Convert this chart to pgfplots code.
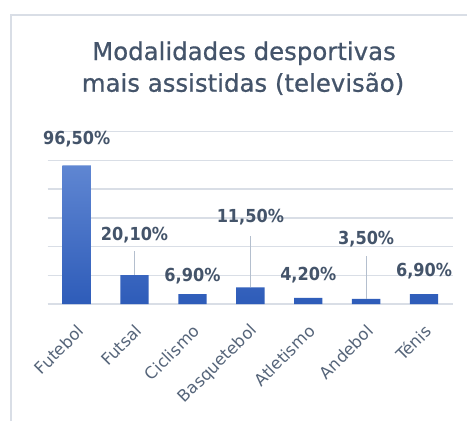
\documentclass[border=0pt]{standalone}
\usepackage{pgfplots}
\pgfplotsset{compat=1.18}
\usepackage{pgfplotstable}
\usepackage{fontspec}
\setmainfont{DejaVu Sans}
\newfontfamily\condfont{DejaVu Sans Condensed}
\newfontfamily\titlefont[FakeBold=0.7]{DejaVu Sans}
\definecolor{titlecol}{HTML}{44546A}
\definecolor{tickcol}{HTML}{56657A}
\definecolor{gridcol}{HTML}{D9DEE6}
\definecolor{framecol}{HTML}{D9DEE6}
\definecolor{bartop}{HTML}{5F86D2}
\definecolor{barbot}{HTML}{2E5CB9}
\definecolor{leadercol}{HTML}{B4BFCE}
\pgfplotstableread{
x  y     val
0  96.5  96.5
1  20.1  20.1
2  6.9   6.9
3  11.5  11.5
4  4.2   4.2
5  3.5   3.5
6  6.9   6.9
}\bars
\pgfplotstableread{
x  ypos   val
0  114.8  96.5
1  48.2   20.1
2  19.1   6.9
3  60.7   11.5
4  20.2   4.2
5  45.5   3.5
6  23.2   6.9
}\labs
\begin{document}
\begin{tikzpicture}[x=1bp,y=1bp]
\useasboundingbox (0,0) rectangle (467,421);
\fill[white] (0,0) rectangle (467,421);
\draw[framecol, line width=1.5bp] (11,0) -- (11,406) -- (467,406);
\node[anchor=base, font=\titlefont\fontsize{24.5}{28}\selectfont, text=titlecol, inner sep=0] at (244,361) {Modalidades desportivas};
\node[anchor=base, font=\titlefont\fontsize{24.5}{28}\selectfont, text=titlecol, inner sep=0] at (243,329.3) {mais assistidas (televisão)};
\begin{axis}[
  at={(47.7bp,117bp)}, anchor=south west,
  scale only axis, width=405.3bp, height=172.3bp,
  xmin=-0.5, xmax=6.5, ymin=0, ymax=120,
  ytick={0,20,...,120}, yticklabels={},
  ymajorgrids, grid style={gridcol, line width=1.5bp},
  axis line style={draw=none},
  major tick length=0pt,
  xtick={0,...,6},
  xticklabels={Futebol,Futsal,Ciclismo,Basquetebol,Atletismo,Andebol,Ténis},
  xticklabel style={rotate=45, anchor=east, xshift=-14.2bp, yshift=-19.8bp, text=tickcol, font=\fontsize{16.5}{19}\selectfont, inner sep=0pt},
  /pgf/number format/assume math mode=true,
  clip=false,
]
\addplot[ybar, bar width=0.49, draw=none, top color=bartop, bottom color=barbot] table[x=x, y=y] {\bars};
\addplot[leadercol, line width=1bp] coordinates {(1,20.1) (1,37.2)};
\addplot[leadercol, line width=1bp] coordinates {(3,11.5) (3,47.6)};
\addplot[leadercol, line width=1bp] coordinates {(5,3.5) (5,33.5)};
\addplot[draw=none, mark=none, point meta=explicit,
  nodes near coords={\pgfmathprintnumber[fixed, fixed zerofill, precision=2, use comma, assume math mode=true]{\pgfplotspointmeta}\%},
  nodes near coords align={center},
  every node near coord/.append style={font=\condfont\bfseries\fontsize{18}{21}\selectfont, text=titlecol, anchor=center, inner sep=0pt}
] table[x=x, y=ypos, meta=val] {\labs};
\end{axis}
\end{tikzpicture}
\end{document}
